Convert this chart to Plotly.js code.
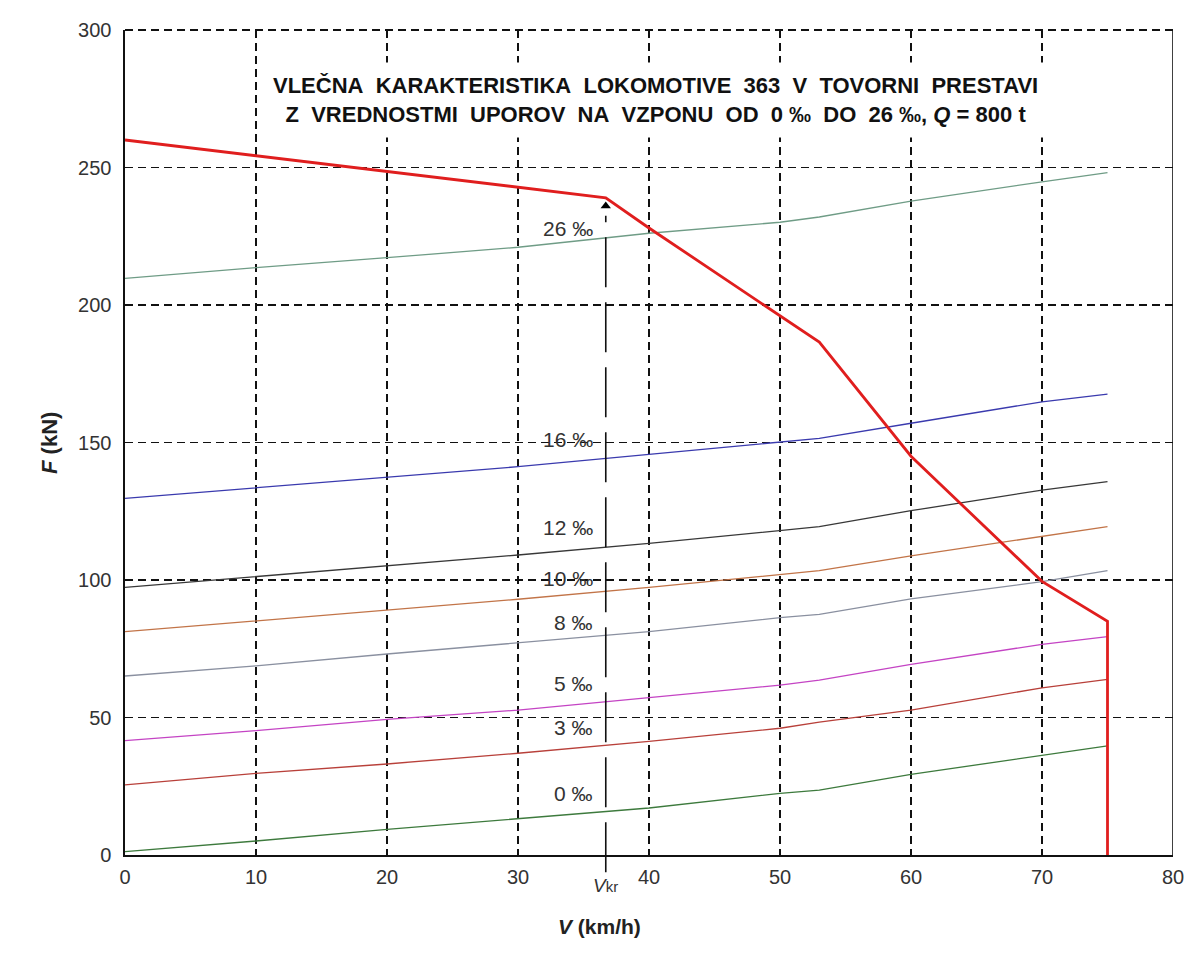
<!DOCTYPE html>
<html>
<head>
<meta charset="utf-8">
<script src="https://cdn.plot.ly/plotly-3.0.1.min.js"></script>
<style>html,body{margin:0;padding:0;background:#fff;}#chart{width:1188px;height:964px;}</style>
</head>
<body>
<div id="chart"></div>
<script>
// Speed (km/h) at which resistance curves were read
const speeds = [0, 10, 20, 30, 40, 50, 53, 60, 70, 75];
// Resistance curves (kN) for gradients
const res0  = [1.2, 5.1, 9.3, 13.3, 17.1, 22.4, 23.6, 29.3, 36.1, 39.7];
const res3  = [25.5, 29.7, 33.1, 37.0, 41.3, 46.1, 48.3, 52.7, 60.8, 63.9];
const res5  = [41.6, 45.2, 49.3, 52.7, 57.2, 61.8, 63.6, 69.3, 76.6, 79.4];
const res8  = [65.1, 68.8, 73.1, 77.2, 81.2, 86.3, 87.5, 93.1, 99.4, 103.4];
const res10 = [81.2, 85.2, 89.1, 93.0, 97.3, 101.8, 103.4, 108.8, 116.0, 119.4];
const res12 = [97.3, 101.2, 105.2, 109.1, 113.3, 118.2, 119.4, 125.2, 132.7, 135.8];
const res16 = [129.7, 133.6, 137.3, 141.2, 145.7, 150.0, 151.5, 157.0, 164.8, 167.6];
const res26 = [209.7, 213.6, 217.2, 221.0, 226.1, 230.1, 232.0, 237.8, 244.8, 248.1];
// Traction characteristic (red)
const tractV = [0, 36.7, 40, 50, 53, 60, 70, 75, 75];
const tractF = [260, 239, 228, 196, 186.5, 145, 99.5, 85, 0];
// Critical speed
const vkr = 36.7;
const vkrF = 236;
// Curve labels
const labelTexts = ["26 ‰", "16 ‰", "12 ‰", "10 ‰", "8 ‰", "5 ‰", "3 ‰", "0 ‰"];
const labelY = [228, 151, 119, 100.7, 84.7, 62.5, 46.2, 22.5];
const xTicks = [0, 10, 20, 30, 40, 50, 60, 70, 80];
const yTicks = [0, 50, 100, 150, 200, 250, 300];
const titleLines = [
  "VLEČNA  KARAKTERISTIKA  LOKOMOTIVE  363  V  TOVORNI  PRESTAVI",
  "Z  VREDNOSTMI  UPOROV  NA  VZPONU  OD  0 ‰  DO  26 ‰, <i>Q</i> = 800 t"
];

const curves = [
  {y: res0, c: "#3d7a3d"},
  {y: res3, c: "#b8403a"},
  {y: res5, c: "#c444c4"},
  {y: res8, c: "#8a90a0"},
  {y: res10, c: "#c27448"},
  {y: res12, c: "#383838"},
  {y: res16, c: "#3a3aae"},
  {y: res26, c: "#6f9c86"}
];
const traces = curves.map(cv => ({
  x: speeds, y: cv.y, type: "scatter", mode: "lines",
  line: {color: cv.c, width: 1.3}, hoverinfo: "skip", showlegend: false
}));
traces.push({x: tractV, y: tractF, type: "scatter", mode: "lines",
  line: {color: "#e01e1e", width: 2.8}, showlegend: false, hoverinfo: "skip"});
traces.push({x: [vkr], y: [vkrF], type: "scatter", mode: "markers",
  marker: {symbol: "triangle-up", size: 9, color: "#000"}, showlegend: false, hoverinfo: "skip"});

const FONT = "Liberation Sans, Arial, sans-serif";
const annotations = labelTexts.map((t, i) => ({
  x: 35.9, y: labelY[i], xref: "x", yref: "y", text: t, showarrow: false,
  xanchor: "right", yanchor: "middle", font: {family: FONT, size: 21, color: "#333"}
}));
annotations.push({
  x: 40.5, y: 274.6, xref: "x", yref: "y", showarrow: false,
  text: "<b>" + titleLines.map(s => s.replace(/  /g, "\u00a0\u00a0")).join("<br>") + "</b>",
  font: {family: FONT, size: 22, color: "#111"}, align: "center",
  bgcolor: "#fff", borderpad: 10
});
annotations.push({
  x: vkr, y: -0.022, xref: "x", yref: "paper", showarrow: false, yanchor: "top",
  text: "<i>V</i><span style='font-size:15px'>kr</span>", font: {family: FONT, size: 19, color: "#333"}
});
annotations.push({
  x: 0.453, y: -0.103, xref: "paper", yref: "paper", showarrow: false,
  text: "<b><i>V</i> (km/h)</b>", font: {family: FONT, size: 21, color: "#222"}
});
annotations.push({
  x: -0.0859, y: 0.5, xref: "paper", yref: "paper", showarrow: false, textangle: -90,
  text: "<b><i>F</i> (kN)</b>", font: {family: FONT, size: 22, color: "#222"}
});

const layout = {
  width: 1188, height: 964,
  margin: {l: 125, r: 15, t: 30, b: 109},
  paper_bgcolor: "#fff", plot_bgcolor: "#fff",
  showlegend: false,
  xaxis: {
    range: [0, 80], tickvals: xTicks, ticktext: xTicks.map(String),
    showgrid: true, gridcolor: "#111", gridwidth: 1.7, griddash: "8px,5px",
    zeroline: false, showline: true, linecolor: "#111", linewidth: 1.6,
    ticks: "", ticklabelstandoff: 3,
    tickfont: {family: FONT, size: 20, color: "#333"}
  },
  yaxis: {
    range: [0, 300], tickvals: yTicks, ticktext: yTicks.map(String),
    showgrid: true, gridcolor: "#111", gridwidth: 1.7, griddash: "8px,5px",
    zeroline: false, showline: true, linecolor: "#111", linewidth: 1.6,
    ticks: "", ticklabelstandoff: 8,
    tickfont: {family: FONT, size: 20, color: "#333"}
  },
  shapes: [
    {type: "line", xref: "x", yref: "paper", x0: 80, x1: 80, y0: 0, y1: 1, line: {color: "#111", width: 1.6}},
    {type: "line", xref: "x", yref: "paper", x0: 0, x1: 80, y0: 1, y1: 1, line: {color: "#111", width: 2, dash: "8px,5px"}},
    {type: "line", xref: "x", yref: "paper", x0: vkr, x1: vkr, y0: -0.021, y1: 0.775, line: {color: "#111", width: 1.6, dash: "50px,15px"}}
  ],
  annotations: annotations
};

Plotly.newPlot("chart", traces, layout, {displayModeBar: false, staticPlot: true});
</script>
</body>
</html>
